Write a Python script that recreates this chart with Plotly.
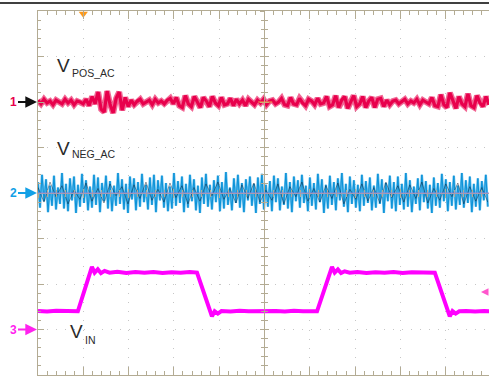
import numpy as np
import plotly.graph_objects as go

# ---------------- data ----------------
# time in divisions (1 ms/div), screen shows 0 .. ~9.96 div
ch1_mv = [2,-2,3,-1,1,-3,2,0,-2,3,-1,2,-3,1,0,-2,
          3,-4,6,-2,11,-8,-11,12,-3,-12,4,11,-9,5,-5,
          2,-3,1,3,-2,0,2,-3,3,-1,1,-2,2,4,-2,
          5,-4,-6,7,-2,-5,6,0,-6,5,1,-5,6,-1,-4,5,-3,-2,4,-4,
          3,-2,2,-4,3,0,-3,2,-1,3,-3,1,2,-2,0,
          4,-3,-4,5,-2,-3,4,-1,-4,3,1,-3,4,-2,-1,
          6,-5,-3,7,-6,2,6,-7,0,7,-5,-2,6,-6,1,5,-6,3,4,-5,
          2,-3,1,2,-2,0,3,-2,1,-1,3,-3,2,0,-2,
          5,-4,-5,8,-3,-6,10,1,-7,6,-2,-5,9,-4,-6,7,-1,-5,6,-3]

ch2_mv = [12,-16,20,-9,15,-21,8,-14,19,-18,6,-12,22,-17,10,-20,16,-8,18,-22,
          9,-15,21,-11,14,-19,7,-16,20,-13,17,-21,11,-9,19,-17,13,-20,8,-14,
          22,-12,15,-18,10,-22,18,-7,16,-19,12,-15,21,-10,9,-18,17,-13,20,-21,
          14,-8,19,-16,11,-20,7,-17,22,-14,13,-11,18,-21,10,-16,20,-9,15,-19,
          8,-22,17,-12,21,-15,9,-18,14,-10,19,-20,12,-17,23,-13,6,-19,16,-11,
          20,-16,11,-21,15,-8,18,-14,10,-22,17,-12,21,-18,9,-15,13,-20,19,-10,
          16,-19,7,-13,22,-17,12,-21,18,-9,14,-16,20,-11,8,-20,17,-14,11,-18,
          21,-10,15,-22,9,-17,19,-13,12,-19,16,-8,22,-15,10,-21,18,-12,14,-16,
          9,-20,20,-14,13,-11,17,-19,8,-16,21,-12,15,-22,11,-9,19,-17,12,-20,
          18,-13,10,-18,22,-15,14,-21,7,-12,16,-19,20,-10,13,-17,9,-22,17,-14,
          11,-16,21,-9,15,-20,12,-14,19,-18,8,-13,22,-16,14,-11,18,-21,10,-15,
          16,-19,13,-8,20,-15]

ch2_dark_mv = [6,-10,12,-4,8,-12,3,-7,11,-9,5,-11,10,-3,7,-12,9,-6,12,-8,
               4,-10,11,-5,8,-12,6,-9,10,-3,12,-7,5,-11,9,-6,11,-10,3,-8,
               10,-12,7,-4,12,-9,5,-10,8,-6,11,-12,4,-7,10,-9,6,-11,12,-5,
               8,-10,9,-6,12,-11,5,-8,10,-4,11,-12,7,-9,6,-10]

ch3_t = [0.00,0.20,0.40,0.60,0.80,0.88,1.19,1.25,1.32,1.39,1.47,1.58,1.75,1.95,2.15,2.35,
         2.55,2.75,2.95,3.15,3.35,3.51,3.84,3.90,3.97,4.05,4.25,4.45,4.65,4.85,5.05,5.25,
         5.45,5.65,5.85,6.05,6.16,6.49,6.55,6.62,6.69,6.77,6.88,7.05,7.25,7.45,7.65,7.85,
         8.05,8.25,8.45,8.65,8.76,9.09,9.15,9.22,9.30,9.45,9.65,9.85,9.96]
ch3_v = [1.62,1.58,1.65,1.60,1.63,1.60,5.50,5.00,5.30,4.95,5.15,5.00,5.08,4.96,5.05,4.98,
         5.06,4.97,5.04,5.00,5.05,5.00,1.15,1.60,1.40,1.62,1.58,1.64,1.60,1.63,1.59,1.62,
         1.58,1.64,1.60,1.62,1.60,5.50,5.00,5.28,4.96,5.12,5.00,5.06,4.97,5.04,5.00,5.06,
         4.96,5.04,5.00,5.03,5.00,1.15,1.62,1.40,1.60,1.63,1.58,1.62,1.60]

labels = ["V", "POS_AC", "V", "NEG_AC", "V", "IN"]
channel_names = ["1", "2", "3"]
ch_offsets = [6, 4, 1]          # ground marker position (div)
ac_scale_mv = 50.0              # mV/div
vin_scale_v = 4.0               # V/div
trigger_pos = 1.0               # div
t_span = 9.956

# ---------------- figure ----------------
t1 = np.linspace(0, t_span, len(ch1_mv))
t2 = np.linspace(0, 9.93, len(ch2_mv))
t2d = np.linspace(0, 9.93, len(ch2_dark_mv))
y1 = ch_offsets[0] + np.array(ch1_mv) / ac_scale_mv
y2 = ch_offsets[1] + np.array(ch2_mv) / ac_scale_mv
y2d = ch_offsets[1] + np.array(ch2_dark_mv) / ac_scale_mv
y3 = ch_offsets[2] + np.array(ch3_v) / vin_scale_v

TAN = "#b3ab93"
RED = "#e8004c"
BLUE = "#0a92d8"
LBLUE = "#62bcec"
MAG = "#ff00ff"

fig = go.Figure()
fig.add_trace(go.Scatter(x=t1, y=y1, mode="lines", line=dict(color="rgba(232,0,76,0.6)", width=6), hoverinfo="skip"))
fig.add_trace(go.Scatter(x=t1, y=y1, mode="lines", line=dict(color=RED, width=3.2), hoverinfo="skip"))
fig.add_trace(go.Scatter(x=t2, y=y2, mode="lines", line=dict(color=LBLUE, width=2.4), hoverinfo="skip"))
fig.add_trace(go.Scatter(x=t2, y=y2, mode="lines", line=dict(color=BLUE, width=1), hoverinfo="skip"))
fig.add_trace(go.Scatter(x=t2d, y=y2d, mode="lines", line=dict(color="rgba(10,20,40,0.55)", width=0.8), hoverinfo="skip"))
fig.add_trace(go.Scatter(x=ch3_t, y=y3, mode="lines", line=dict(color=MAG, width=4), hoverinfo="skip"))
fig.add_trace(go.Scatter(x=[trigger_pos], y=[7.94], mode="markers",
                         marker=dict(symbol="triangle-down", size=8, color="#ff9a1a"),
                         cliponaxis=False, hoverinfo="skip"))
# center crosshair axes
for ax in ["y2", "y3"]:
    fig.add_trace(go.Scatter(x=[], y=[], yaxis=ax))
for ax in ["x2", "x3"]:
    fig.add_trace(go.Scatter(x=[], y=[], xaxis=ax))

common = dict(showticklabels=False, zeroline=False, linecolor=TAN, linewidth=1, tickcolor=TAN, tickwidth=1)
fig.update_layout(
    width=489, height=379,
    margin=dict(l=38, r=0, t=11, b=4, pad=0),
    plot_bgcolor="white", paper_bgcolor="white",
    showlegend=False,
    xaxis=dict(range=[0, t_span], dtick=1, showgrid=True, gridcolor="#c6c6c6", griddash="1px,8.1px",
               showline=True, mirror="ticks", ticks="inside", ticklen=8,
               minor=dict(dtick=0.2, ticks="inside", ticklen=4, tickcolor=TAN, showgrid=False), **common),
    yaxis=dict(range=[0, 8], dtick=1, showgrid=True, gridcolor="#c6c6c6", griddash="1px,8.1px",
               showline=True, ticks="inside", ticklen=6,
               minor=dict(dtick=0.2, ticks="inside", ticklen=3, tickcolor=TAN, showgrid=False), **common),
    yaxis2=dict(range=[0, 8], overlaying="y", anchor="free", position=5 / t_span, dtick=1, showgrid=False,
                showline=True, ticks="outside", ticklen=4,
                minor=dict(dtick=0.2, ticks="outside", ticklen=3, tickcolor=TAN), **common),
    yaxis3=dict(range=[0, 8], overlaying="y", anchor="free", position=5 / t_span, dtick=1, showgrid=False,
                showline=False, ticks="inside", ticklen=4,
                minor=dict(dtick=0.2, ticks="inside", ticklen=3, tickcolor=TAN), **common),
    xaxis2=dict(range=[0, t_span], overlaying="x", anchor="free", position=0.5, dtick=1, showgrid=False,
                showline=True, ticks="outside", ticklen=4,
                minor=dict(dtick=0.2, ticks="outside", ticklen=3, tickcolor=TAN), **common),
    xaxis3=dict(range=[0, t_span], overlaying="x", anchor="free", position=0.5, dtick=1, showgrid=False,
                showline=False, ticks="inside", ticklen=4,
                minor=dict(dtick=0.2, ticks="inside", ticklen=3, tickcolor=TAN), **common),
)

def px2x(px):
    return (px - 38) / 45.3

def py2y(py):
    return 8 - (py - 11) / 45.5

FONT = "Liberation Sans, Arial, sans-serif"
# signal labels
lab_pos = [(55, 65, 19), (70, 72.5, 10.5), (55, 148, 19), (70, 154, 10.5), (68, 331, 19), (82.5, 339.5, 10.5)]
for txt, (px, py, fs) in zip(labels, lab_pos):
    fig.add_annotation(x=px2x(px), y=py2y(py), xref="x", yref="y", text=txt, showarrow=False,
                       xanchor="left", yanchor="middle", font=dict(family=FONT, size=fs, color="#2a2a2a"))

# channel ground markers
ch_txt_col = [RED, "#12a0e6", "#ff22ee"]
ch_arrow_col = ["#111111", "#12a0e6", "#ff22ee"]
for name, off, tc, ac in zip(channel_names, ch_offsets, ch_txt_col, ch_arrow_col):
    fig.add_annotation(x=0, y=off, xref="paper", yref="y", text="<b>%s</b>" % name, showarrow=True,
                       ax=-25, ay=0, arrowhead=2, arrowsize=1.3, arrowwidth=1.8, arrowcolor=ac,
                       standoff=1, font=dict(family=FONT, size=12, color=tc))

# right-side level marker
fig.add_annotation(x=px2x(481), y=py2y(292), xref="x", yref="y", text=" ", showarrow=True,
                   ax=14, ay=0, arrowhead=2, arrowsize=1, arrowwidth=1.5, arrowcolor="#ff55cc", standoff=0)

# top black frame line, center reference lines
fig.add_shape(type="line", xref="paper", yref="paper", x0=-0.2, x1=1.1, y0=1 + 8 / 364, y1=1 + 8 / 364,
              line=dict(color="black", width=1.5))
fig.add_shape(type="line", xref="paper", yref="y", x0=0, x1=1, y0=ch_offsets[1], y1=ch_offsets[1],
              line=dict(color="rgba(150,130,225,0.85)", width=1), layer="above")
fig.add_shape(type="line", xref="x", yref="y", x0=4.86, x1=5.17, y0=ch_offsets[0], y1=ch_offsets[0],
              line=dict(color="#f3a850", width=1), layer="above")

fig.write_html("out.html", config={"displayModeBar": False},
               post_script="document.body.style.margin='0';document.body.style.overflow='hidden';")
